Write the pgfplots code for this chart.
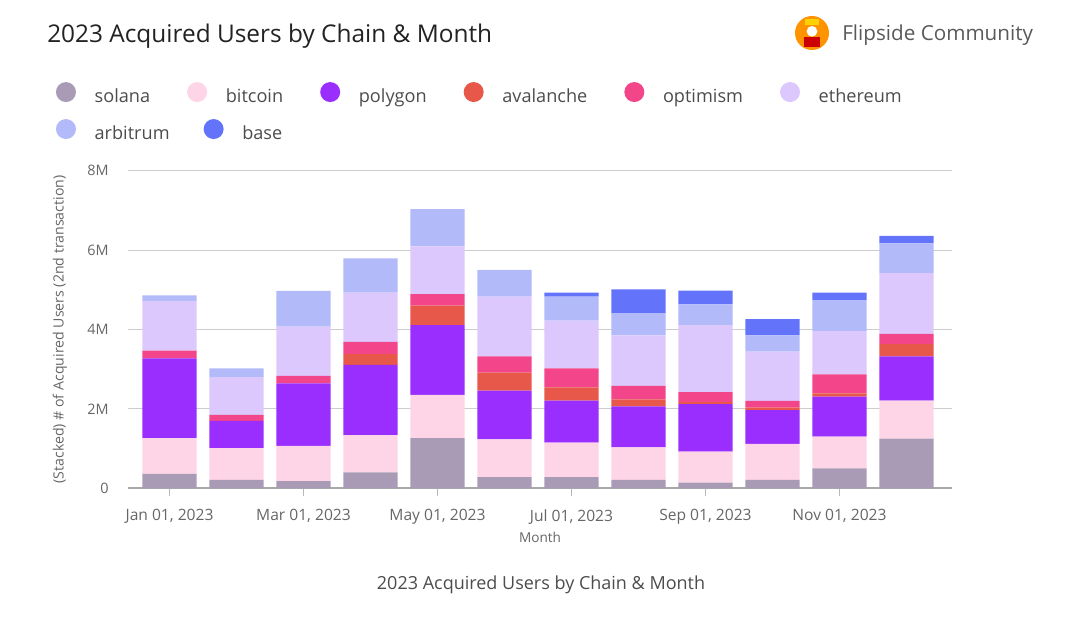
\documentclass[border=0pt]{standalone}
\usepackage{pgfplots}
\usepackage{pgfplotstable}
\pgfplotsset{compat=1.18}
\usepackage{fontspec}
\setmainfont{Open Sans}

\definecolor{csol}{HTML}{A99BB5}
\definecolor{cbtc}{HTML}{FDD5E6}
\definecolor{cpoly}{HTML}{9A2EFE}
\definecolor{caval}{HTML}{E8584A}
\definecolor{copt}{HTML}{F2458A}
\definecolor{ceth}{HTML}{DCC8FC}
\definecolor{carb}{HTML}{B2BAF9}
\definecolor{cbase}{HTML}{6374FA}
\definecolor{gridgray}{HTML}{CCCCCC}
\definecolor{axgray}{HTML}{A8A8A8}
\definecolor{labgray}{HTML}{666666}
\definecolor{titlecol}{HTML}{222222}

% values in millions of users (stacked increments)
\pgfplotstableread{
x sol btc poly aval opt eth arb base
0  0.36 0.90 2.01 0.00 0.20 1.25 0.14 0.00
1  0.21 0.80 0.69 0.00 0.15 0.95 0.22 0.00
2  0.18 0.89 1.57 0.00 0.19 1.24 0.90 0.00
3  0.40 0.94 1.77 0.27 0.31 1.24 0.86 0.00
4  1.26 1.09 1.76 0.49 0.29 1.20 0.94 0.00
5  0.28 0.95 1.23 0.45 0.41 1.51 0.67 0.00
6  0.28 0.87 1.06 0.33 0.48 1.20 0.61 0.10
7  0.21 0.82 1.03 0.18 0.34 1.27 0.56 0.60
8  0.14 0.78 1.20 0.05 0.25 1.69 0.52 0.35
9  0.21 0.91 0.85 0.06 0.17 1.24 0.41 0.41
10 0.50 0.80 1.01 0.08 0.48 1.09 0.78 0.19
11 1.25 0.96 1.11 0.31 0.26 1.53 0.75 0.19
}\data

\pgfplotsset{
  circleleg/.style={legend image code/.code={\fill (0pt,4.6pt) circle (7.5pt);}},
  mylegend/.style={
    legend cell align=left,
    legend style={draw=none, fill=none, inner sep=0pt, outer sep=0pt,
      anchor=north west,
      font=\fontsize{13.6}{15}\selectfont, text=black!70,
      nodes={inner sep=0pt, text height=9.5pt, text depth=2.5pt},
      /tikz/every odd column/.append style={column sep=14pt}}},
}

\begin{document}
\begin{tikzpicture}
\path[use as bounding box] (0pt,0pt) rectangle (799.5pt,463.5pt);

% header
\node[anchor=base west, inner sep=0pt, font=\fontsize{18.3}{21}\selectfont, text=titlecol] at (35.25pt,431.5pt) {2023 Acquired Users by Chain \& Month};
\fill[orange!85!yellow] (609pt,438.75pt) circle (12.75pt);
\fill[red!80!black] (603pt,428pt) rectangle (615pt,436pt);
\fill[white] (609pt,440pt) circle (4pt);
\fill[yellow!70!orange] (604pt,445pt) rectangle (614pt,449pt);
\node[anchor=base west, inner sep=0pt, font=\fontsize{15.5}{18}\selectfont, text=black!65] at (631.5pt,433pt) {Flipside Community};

\begin{axis}[
  at={(96pt,97.3pt)}, anchor=south west,
  scale only axis, width=618pt, height=238.2pt,
  ybar stacked, bar width=0.81,
  xmin=-0.62, xmax=11.68, ymin=0, ymax=8,
  xtick={0,2,4,6,8,10},
  xticklabels={{Jan 01, 2023},{Mar 01, 2023},{May 01, 2023},{Jul 01, 2023},{Sep 01, 2023},{Nov 01, 2023}},
  ytick={0,2,4,6,8},
  yticklabels={0,2M,4M,6M,8M},
  axis x line*=bottom, axis y line*=left,
  y axis line style={draw=none},
  x axis line style={draw=axgray, line width=1.2pt},
  ytick style={draw=none},
  xtick style={draw=axgray!80, line width=0.6pt},
  tick align=outside, major tick length=6pt,
  ymajorgrids, grid style={draw=gridgray, line width=0.8pt},
  ticklabel style={text=labgray},
  xticklabel style={yshift=-6.5pt, font=\fontsize{11.7}{13}\selectfont},
  yticklabel style={xshift=-5pt, font=\fontsize{10.8}{12}\selectfont},
  ylabel={(Stacked) \# of Acquired Users (2nd transaction)},
  ylabel style={at={(axis description cs:-0.0825,0.5)}, anchor=center, font=\fontsize{10.6}{12}\selectfont, text=labgray},
  xlabel={Month},
  xlabel style={at={(axis description cs:0.5,-0.155)}, anchor=center, font=\fontsize{10.2}{12}\selectfont, text=labgray},
  mylegend, legend columns=6,
  legend style={at={(axis description cs:-0.0874,1.279)},
    /tikz/every even column/.append style={column sep=27.75pt}},
]
\addplot[fill=csol, draw=none, circleleg] table[x=x, y=sol] {\data};
\addplot[fill=cbtc, draw=none, circleleg] table[x=x, y=btc] {\data};
\addplot[fill=cpoly, draw=none, circleleg] table[x=x, y=poly] {\data};
\addplot[fill=caval, draw=none, circleleg] table[x=x, y=aval] {\data};
\addplot[fill=copt, draw=none, circleleg] table[x=x, y=opt] {\data};
\addplot[fill=ceth, draw=none, circleleg] table[x=x, y=eth] {\data};
\addplot[fill=carb, draw=none, circleleg] table[x=x, y=arb] {\data};
\addplot[fill=cbase, draw=none, circleleg] table[x=x, y=base] {\data};
\legend{solana,bitcoin,polygon,avalanche,optimism,ethereum}
\end{axis}

% second legend row (same axis frame, hidden)
\begin{axis}[
  at={(96pt,97.3pt)}, anchor=south west,
  scale only axis, width=618pt, height=238.2pt,
  xmin=0, xmax=1, ymin=0, ymax=1, hide axis,
  mylegend, legend columns=2,
  legend style={at={(axis description cs:-0.0874,1.1625)},
    /tikz/every even column/.append style={column sep=25.5pt}},
]
\addlegendimage{fill=carb, draw=none, circleleg}
\addlegendentry{arbitrum}
\addlegendimage{fill=cbase, draw=none, circleleg}
\addlegendentry{base}
\end{axis}

\node[anchor=base, inner sep=0pt, font=\fontsize{13.5}{15}\selectfont, text=black!70] at (405.75pt,21.5pt) {2023 Acquired Users by Chain \& Month};
\end{tikzpicture}
\end{document}
